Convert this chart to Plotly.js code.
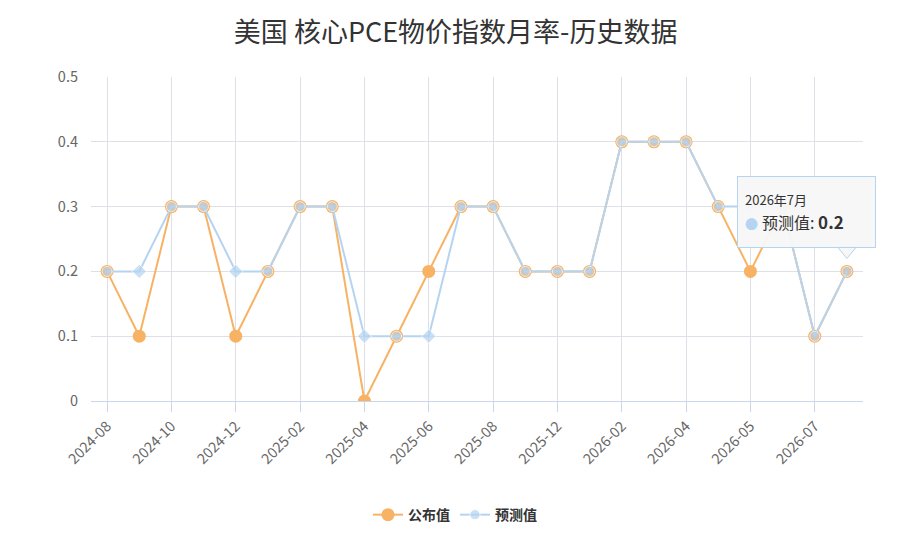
<!DOCTYPE html>
<html>
<head>
<meta charset="utf-8">
<script src="https://cdn.plot.ly/plotly-3.0.1.min.js"></script>
<style>html,body{margin:0;padding:0;background:#fff;}#chart{width:897px;height:555px;}</style>
</head>
<body>
<div id="chart"></div>
<script>
// Category labels (only every other one is shown on the axis)
const categories = ['2024-08','2024-09','2024-10','2024-11','2024-12','2025-01','2025-02','2025-03',
  '2025-04','2025-05','2025-06','2025-07','2025-08','2025-10','2025-12','2026-01',
  '2026-02','2026-03','2026-04','2026-04','2026-05','2026-06','2026-07','2026-07'];
// 公布值 (published)
const published = [0.2,0.1,0.3,0.3,0.1,0.2,0.3,0.3,0.0,0.1,0.2,0.3,0.3,0.2,0.2,0.2,0.4,0.4,0.4,0.3,0.2,0.3,0.1,0.2];
// 预测值 (forecast)
const forecast  = [0.2,0.2,0.3,0.3,0.2,0.2,0.3,0.3,0.1,0.1,0.1,0.3,0.3,0.2,0.2,0.2,0.4,0.4,0.4,0.3,0.3,0.3,0.1,0.2];
const seriesNames = ['公布值','预测值'];
const tooltipTitle = '2026年7月';

const idx = categories.map((_, i) => i);
const tickIdx = idx.filter(i => i % 2 === 0);
const tickText = tickIdx.map(i => categories[i]);

const ORANGE = '#f7b264';
const BLUE = '#b5d4f1';
const blueSymbols = forecast.map((v, i) => v === published[i] ? 'circle' : 'diamond');
const blueSizes = forecast.map((v, i) => v === published[i] ? 10 : 11);

const traces = [
  {
    x: idx, y: published, name: seriesNames[0], type: 'scatter', mode: 'lines+markers',
    line: {color: ORANGE, width: 2},
    marker: {color: ORANGE, size: 13, symbol: 'circle'}
  },
  {
    x: idx, y: forecast, name: seriesNames[1], type: 'scatter', mode: 'lines+markers',
    line: {color: BLUE, width: 2},
    marker: {color: BLUE, size: blueSizes, symbol: blueSymbols}
  }
];

const lastI = idx[idx.length - 1];
const layout = {
  width: 897, height: 555,
  paper_bgcolor: '#fff', plot_bgcolor: '#fff',
  margin: {l: 91, r: 34, t: 77, b: 154, autoexpand: false},
  font: {family: '"Noto Sans CJK SC", "Noto Sans", sans-serif', color: '#666', size: 14},
  title: {
    text: '美国 核心PCE物价指数月率-历史数据',
    font: {size: 27, color: '#333', family: '"Noto Sans CJK SC", sans-serif'},
    x: 0.508, xref: 'container', xanchor: 'center',
    y: 0.941, yref: 'container', yanchor: 'middle'
  },
  showlegend: true,
  legend: {
    orientation: 'h', x: 0.4715, xanchor: 'center', xref: 'paper',
    y: -0.352, yanchor: 'middle',
    font: {size: 14, color: '#333', weight: 'bold'}
  },
  hovermode: false,
  xaxis: {
    type: 'linear', range: [-0.5, 23.5], automargin: false,
    tickmode: 'array', tickvals: tickIdx, ticktext: tickText,
    tickangle: -45, ticks: 'outside', ticklen: 10, tickcolor: '#ccd6eb', tickwidth: 1,
    showgrid: true, gridcolor: '#dde0e6', gridwidth: 1,
    showline: true, linecolor: '#ccd6eb', linewidth: 1,
    zeroline: false,
    tickfont: {size: 14.5, color: '#666'},
    fixedrange: true
  },
  yaxis: {
    range: [0, 0.5], dtick: 0.1, tick0: 0, automargin: false,
    showgrid: true, gridcolor: '#dde0e6', gridwidth: 1,
    zeroline: false, showline: false,
    ticks: '', ticklabelstandoff: 12,
    tickfont: {size: 14.5, color: '#666'},
    fixedrange: true
  },
  shapes: [
    {
      type: 'path', layer: 'above',
      xref: 'x', yref: 'y', xsizemode: 'pixel', ysizemode: 'pixel',
      xanchor: lastI, yanchor: forecast[lastI],
      path: 'M -10 25 L 0 13 L 10 25 Z',
      fillcolor: 'rgba(247,247,247,0.95)', line: {color: '#b5d4f1', width: 1}
    }
  ],
  annotations: [
    {
      xref: 'x', yref: 'y', x: lastI, y: forecast[lastI],
      ax: -40, ay: -59, showarrow: true, arrowcolor: 'rgba(0,0,0,0)', arrowwidth: 0.1,
      text: '<span style="font-size:13px;color:#333">' + tooltipTitle + '</span><br>' +
            '<span style="color:' + BLUE + ';font-size:13px">●</span> ' +
            '<span style="font-size:16px;color:#333">' + seriesNames[1] + ': <b style="font-size:17px">' + forecast[lastI] + '</b></span>',
      align: 'left', width: 123, height: 56,
      bgcolor: 'rgba(247,247,247,0.95)', bordercolor: '#b5d4f1', borderwidth: 1, borderpad: 7,
      font: {family: '"Noto Sans CJK SC", sans-serif', color: '#333', size: 18}
    }
  ]
};

Plotly.newPlot('chart', traces, layout, {displayModeBar: false, staticPlot: true});
</script>
</body>
</html>
